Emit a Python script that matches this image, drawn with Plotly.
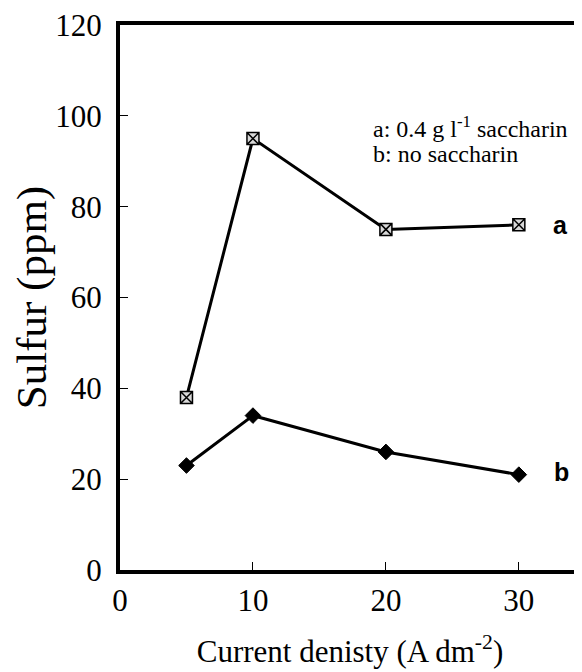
import plotly.graph_objects as go

current_density = [5, 10, 20, 30]
sulfur_a = [38, 95, 75, 76]
sulfur_b = [23, 34, 26, 21]
x_ticks = [0, 10, 20, 30]
y_ticks = [0, 20, 40, 60, 80, 100, 120]

serif = "Times New Roman, Liberation Serif, serif"
sans = "Arial, Liberation Sans, sans-serif"

fig = go.Figure()
fig.add_trace(go.Scatter(
    x=current_density, y=sulfur_a, mode="lines+markers",
    line=dict(color="black", width=3),
    marker=dict(symbol="square-x", size=12, color="#d8d8d8",
                line=dict(color="black", width=1.5)),
    showlegend=False))
fig.add_trace(go.Scatter(
    x=current_density, y=sulfur_b, mode="lines+markers",
    line=dict(color="black", width=3),
    marker=dict(symbol="diamond", size=12, color="black",
                line=dict(color="black", width=1)),
    showlegend=False))

fig.add_annotation(x=33.1, y=76, text="<b>a</b>", showarrow=False,
                   xanchor="center", font=dict(family=sans, size=25, color="black"))
fig.add_annotation(x=33.2, y=21.5, text="<b>b</b>", showarrow=False,
                   xanchor="center", font=dict(family=sans, size=25, color="black"))
fig.add_annotation(x=18.9, y=97.5, text="a: 0.4 g l<sup>-1</sup> saccharin", showarrow=False,
                   xanchor="left", font=dict(family=serif, size=24, color="black"))
fig.add_annotation(x=18.9, y=91.5, text="b: no saccharin", showarrow=False,
                   xanchor="left", font=dict(family=serif, size=24, color="black"))

# thin right border
fig.add_shape(type="line", xref="paper", yref="paper", x0=1, x1=1, y0=0, y1=1,
              line=dict(color="#999999", width=1))

fig.update_xaxes(range=[0, 34.6], tickvals=x_ticks, ticks="inside", ticklen=8,
                 tickwidth=1, tickcolor="black", showline=True, linewidth=4,
                 linecolor="black", mirror=True, showgrid=False, zeroline=False,
                 automargin=False, ticklabeloverflow="allow",
                 tickfont=dict(family=serif, size=31, color="black"),
                 title=dict(text="Current denisty (A dm<sup>-2</sup>)",
                            font=dict(family=serif, size=31, color="black"), standoff=24))
fig.update_yaxes(range=[0, 120], tickvals=y_ticks, ticks="inside", ticklen=8,
                 tickwidth=1, tickcolor="black", showline=True, linewidth=4,
                 linecolor="black", showgrid=False, zeroline=False,
                 automargin=False, ticklabelstandoff=8, ticklabeloverflow="allow",
                 tickfont=dict(family=serif, size=31, color="black"),
                 title=dict(text="Sulfur (ppm)",
                            font=dict(family=serif, size=43, color="black"), standoff=4))

# page body has an 8px default margin, so size the figure to fit the window
fig.update_layout(width=574, height=664, plot_bgcolor="white", paper_bgcolor="white",
                  font=dict(family=serif, color="black"),
                  margin=dict(l=112, r=2, t=17, b=102))
fig.write_html("out.html")
